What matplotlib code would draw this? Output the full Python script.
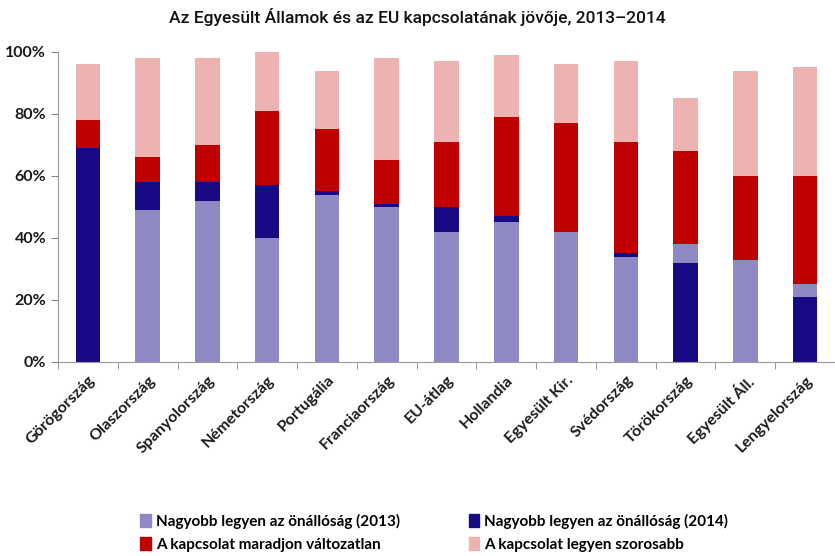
import numpy as np
import matplotlib.pyplot as plt
from matplotlib.patches import Patch

countries = ["Görögország", "Olaszország", "Spanyolország", "Németország", "Portugália",
             "Franciaország", "EU-átlag", "Hollandia", "Egyesült Kir.", "Svédország",
             "Törökország", "Egyesült Áll.", "Lengyelország"]

# share of answers, %
autonomy_2013 = [0, 49, 52, 40, 54, 50, 42, 45, 42, 34, 38, 33, 25]
autonomy_2014 = [69, 58, 58, 57, 55, 51, 50, 47, 0, 35, 32, 0, 21]
unchanged = [9, 8, 12, 24, 20, 14, 21, 32, 35, 36, 30, 27, 35]
closer = [18, 32, 28, 19, 19, 33, 26, 20, 19, 26, 17, 34, 35]

labels = ["Nagyobb legyen az önállóság (2013)", "Nagyobb legyen az önállóság (2014)",
          "A kapcsolat maradjon változatlan", "A kapcsolat legyen szorosabb"]
colors = ["#8E89C2", "#170A84", "#C00000", "#EDB3B3"]

plt.rcParams['font.family'] = ['Lato', 'DejaVu Sans']

a13 = np.array(autonomy_2013) / 100
a14 = np.array(autonomy_2014) / 100
red = np.array(unchanged) / 100
pink = np.array(closer) / 100
x = np.arange(len(countries))
w = 0.41

fig = plt.figure(figsize=(8.35, 5.56), dpi=100)
ax = fig.add_axes([0.0695, 0.349, 0.9305, 0.5575])

# the two autonomy bars overlap, the smaller one is drawn in front
big = np.maximum(a13, a14)
for i in x:
    order = [(a13[i], colors[0]), (a14[i], colors[1])]
    order.sort(key=lambda t: -t[0])
    for h, c in order:
        if h > 0:
            ax.bar(i, h, w, color=c, linewidth=0)
ax.bar(x, red, w, bottom=big, color=colors[2], linewidth=0)
ax.bar(x, pink, w, bottom=big + red, color=colors[3], linewidth=0)

ax.set_xlim(-0.5, len(countries) - 0.5)
ax.set_ylim(0, 1.0)
ax.set_yticks(np.arange(0, 1.01, 0.2))
ax.set_yticklabels([f"{int(v*100)}%" for v in np.arange(0, 1.01, 0.2)],
                   fontsize=11.5, fontweight='bold', color='#1a1a1a')
ax.set_xticks(x)
ax.set_xticklabels(countries, rotation=45, ha='right', rotation_mode='anchor',
                   fontsize=11.5, fontweight='bold', color='#1a1a1a')
ax.set_xticks(np.arange(-0.5, len(countries), 1), minor=True)
ax.tick_params(axis='x', which='major', length=0, pad=8)
ax.tick_params(axis='x', which='minor', length=5, color='#888888', direction='out')
ax.tick_params(axis='y', length=5, color='#888888', direction='out')
for s in ['top', 'right']:
    ax.spines[s].set_visible(False)
for s in ['left', 'bottom']:
    ax.spines[s].set_color('#999999')

fig.suptitle("Az Egyesült Államok és az EU kapcsolatának jövője, 2013–2014",
             x=0.5, y=0.985, fontsize=12.5, family='Roboto', fontweight='medium',
             color='#111111')

handles = [Patch(color=c) for c in colors]
order = [0, 2, 1, 3]
fig.legend([handles[k] for k in order], [labels[k] for k in order], ncol=2,
           loc='center', bbox_to_anchor=(0.52, 0.042), frameon=False,
           handlelength=0.7, handleheight=0.9, handletextpad=0.3,
           columnspacing=4.5, labelspacing=0.55,
           prop={'size': 11, 'weight': 'bold'})

fig.savefig("out.png", dpi=100)
